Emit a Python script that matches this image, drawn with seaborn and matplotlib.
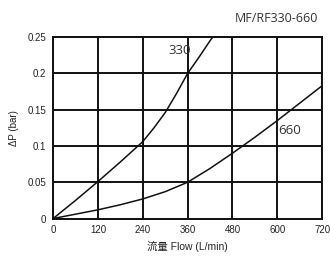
import pandas as pd
import matplotlib
matplotlib.use("Agg")
import matplotlib.pyplot as plt
import seaborn as sns

# 读取曲线数据
flow_330 = [0, 60, 120, 180, 240, 270, 300, 330, 360, 390, 420, 430]
dp_330 = [0, 0.025, 0.051, 0.078, 0.106, 0.125, 0.146, 0.172, 0.2, 0.222, 0.245, 0.252]
flow_660 = [0, 60, 120, 180, 240, 300, 360, 420, 480, 540, 600, 660, 720]
dp_660 = [0, 0.006, 0.012, 0.019, 0.027, 0.037, 0.05, 0.069, 0.09, 0.112, 0.135, 0.159, 0.183]
x_ticks = [0, 120, 240, 360, 480, 600, 720]
y_ticks = [0, 0.05, 0.1, 0.15, 0.2, 0.25]
y_labels = ["0", "0.05", "0.1", "0.15", "0.2", "0.25"]

data = pd.concat([
    pd.DataFrame({"Flow": flow_330, "dP": dp_330, "model": "330"}),
    pd.DataFrame({"Flow": flow_660, "dP": dp_660, "model": "660"}),
])

sns.set_style("white")
plt.rcParams["font.family"] = ["Liberation Sans", "Noto Sans CJK SC"]

fig = plt.figure(figsize=(3.3, 2.58), dpi=100)
ax = fig.add_axes([0.161, 0.153, 0.815, 0.703])

sns.lineplot(data=data, x="Flow", y="dP", hue="model", units="model", estimator=None,
             palette=["#111111", "#111111"], linewidth=1.1, legend=False, ax=ax)

ax.set_xlim(0, 720)
ax.set_ylim(0, 0.25)
ax.set_xticks(x_ticks)
ax.set_xticklabels([str(v) for v in x_ticks], fontsize=7, color="#222222")
ax.set_yticks(y_ticks)
ax.set_yticklabels(y_labels, fontsize=7, color="#222222")
ax.grid(True, color="#111111", linewidth=1.4)
for s in ax.spines.values():
    s.set_color("#111111")
    s.set_linewidth(1.4)
ax.tick_params(axis="both", length=3, width=1, color="#111111", pad=2)

ax.set_xlabel("流量 Flow (L/min)", fontsize=7.5, color="#222222", labelpad=4)
ax.set_ylabel("ΔP (bar)", fontsize=7, color="#222222", labelpad=6)

ax.text(340, 0.231, "330", fontsize=9.5, family="Open Sans", color="#333333", ha="center", va="center")
ax.text(634, 0.122, "660", fontsize=9.5, family="Open Sans", color="#333333", ha="center", va="center")
fig.text(0.965, 0.93, "MF/RF330-660", fontsize=9, family="Open Sans", color="#333333", ha="right", va="center")

fig.savefig("out.png", dpi=100)
